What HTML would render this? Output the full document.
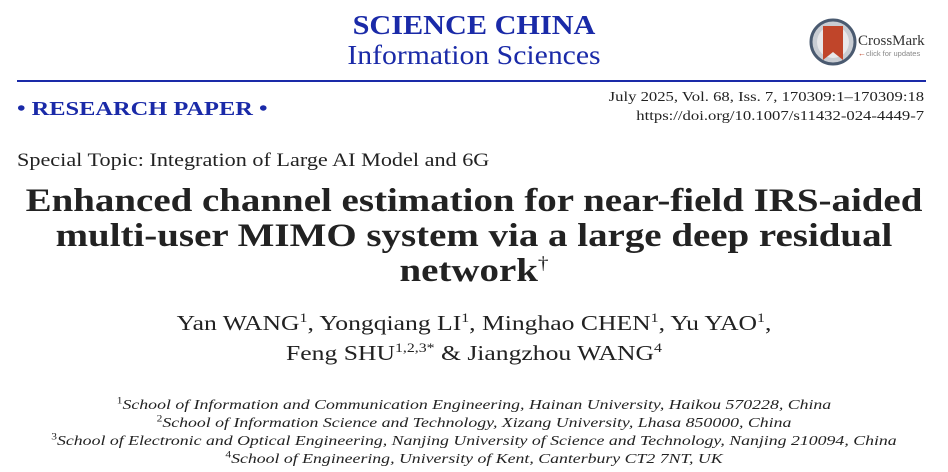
<!DOCTYPE html>
<html><head><meta charset="utf-8"><style>
body{margin:0;width:948px;height:472px;background:#fff;position:relative;overflow:hidden;font-family:"Liberation Serif",serif;color:#222}
.a{position:absolute;white-space:nowrap}
.c{left:0;width:948px;text-align:center;transform-origin:474px 0}
.blue{color:#1a2aa8}
sup{line-height:0}
</style></head><body>
<div class="a c blue" style="top:10px;font-size:27px;font-weight:bold;line-height:30px;transform:scaleX(1.12)">SCIENCE CHINA</div>
<div class="a c blue" style="top:40px;font-size:27px;line-height:30px;transform:scaleX(1.1)">Information Sciences</div>
<svg class="a" style="left:808px;top:18px" width="120" height="50">
<circle cx="25" cy="24" r="22" fill="#c9cdd3" stroke="#4a5a70" stroke-width="3"/>
<circle cx="25" cy="24" r="16" fill="#e8e8ea"/>
<path d="M15 8 H35 V42 L25 34 L15 42 Z" fill="#c0452a"/>
<text x="50" y="27" font-family="Liberation Serif" font-size="15" fill="#333">CrossMark</text>
<text x="58" y="38" font-family="Liberation Sans" font-size="7.5" fill="#888">click for updates</text>
<text x="50" y="38" font-family="Liberation Sans" font-size="8" fill="#c0452a">←</text>
</svg>
<div class="a" style="left:17px;top:80px;width:909px;height:2px;background:#1a2aa8"></div>
<div class="a blue" style="left:17px;top:97px;font-size:20px;font-weight:bold;line-height:24px;transform-origin:0 0;transform:scaleX(1.22)">• RESEARCH PAPER •</div>
<div class="a" style="right:24px;top:88px;font-size:14px;line-height:19px;text-align:right;transform-origin:100% 0;transform:scaleX(1.19)">July 2025, Vol. 68, Iss. 7, 170309:1–170309:18<br>https://doi.org/10.1007/s11432-024-4449-7</div>
<div class="a" style="left:17px;top:149px;font-size:18.5px;line-height:24px;transform-origin:0 0;transform:scaleX(1.2)">Special Topic: Integration of Large AI Model and 6G</div>
<div class="a c" style="top:184px;font-size:33px;font-weight:bold;line-height:35px;transform:scaleX(1.18)">Enhanced channel estimation for near-field IRS-aided<br>multi-user MIMO system via a large deep residual<br>network<sup style="font-size:18px;font-weight:normal">†</sup></div>
<div class="a c" style="top:308px;font-size:21px;line-height:30px;transform:scaleX(1.22)">Yan WANG<sup style="font-size:13px">1</sup>, Yongqiang LI<sup style="font-size:13px">1</sup>, Minghao CHEN<sup style="font-size:13px">1</sup>, Yu YAO<sup style="font-size:13px">1</sup>,<br>Feng SHU<sup style="font-size:13px">1,2,3*</sup> &amp; Jiangzhou WANG<sup style="font-size:13px">4</sup></div>
<div class="a c" style="top:397px;font-size:14px;line-height:18px;font-style:italic;transform:scaleX(1.27)">
<sup style="font-size:9px;font-style:normal">1</sup>School of Information and Communication Engineering, Hainan University, Haikou 570228, China<br>
<sup style="font-size:9px;font-style:normal">2</sup>School of Information Science and Technology, Xizang University, Lhasa 850000, China<br>
<sup style="font-size:9px;font-style:normal">3</sup>School of Electronic and Optical Engineering, Nanjing University of Science and Technology, Nanjing 210094, China<br>
<sup style="font-size:9px;font-style:normal">4</sup>School of Engineering, University of Kent, Canterbury CT2 7NT, UK</div>
</body></html>
